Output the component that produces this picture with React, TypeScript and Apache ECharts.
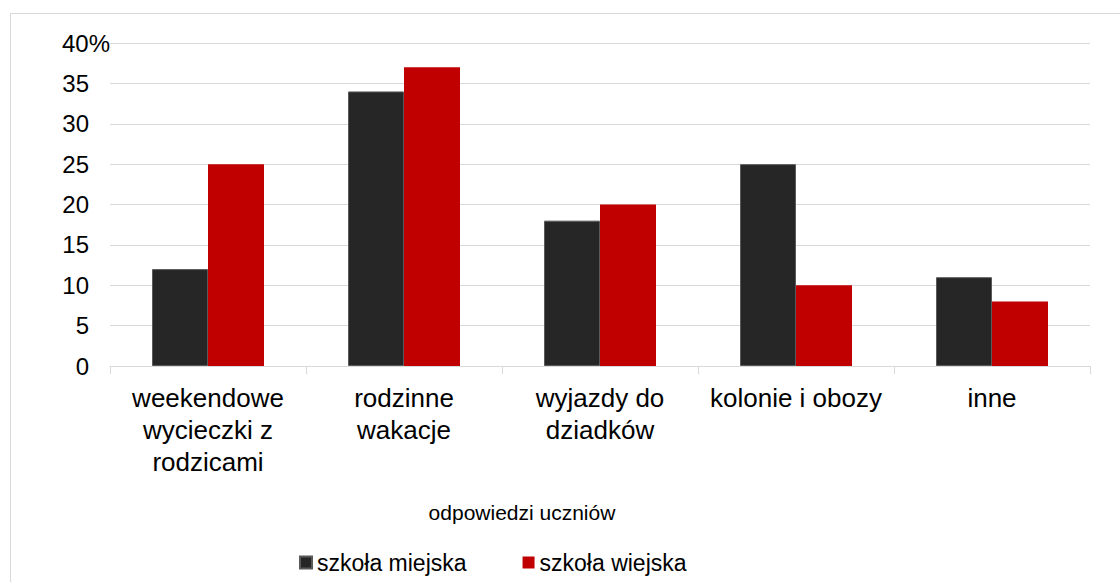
import React, { useEffect, useRef } from "react";
import * as echarts from "echarts";

const categories = [
  "weekendowe wycieczki z rodzicami",
  "rodzinne wakacje",
  "wyjazdy do dziadków",
  "kolonie i obozy",
  "inne",
];
const categoryLabels = [
  "weekendowe\nwycieczki z\nrodzicami",
  "rodzinne\nwakacje",
  "wyjazdy do\ndziadków",
  "kolonie i obozy",
  "inne",
];
const seriesNames = ["szkoła miejska", "szkoła wiejska"];
const miejska = [12, 34, 18, 25, 11];
const wiejska = [25, 37, 20, 10, 8];
const axisTitle = "odpowiedzi uczniów";
const yMax = 40;
const yStep = 5;

const FONT = "'Liberation Sans', Arial, sans-serif";

export default function App() {
  const ref = useRef<HTMLDivElement>(null);
  useEffect(() => {
    if (!ref.current) return;
    const chart = echarts.init(ref.current, undefined, { renderer: "svg" });
    chart.setOption({
      animation: false,
      backgroundColor: "#ffffff",
      textStyle: { fontFamily: FONT },
      grid: { left: 110, right: 30, top: 43, bottom: 216, containLabel: false },
      xAxis: {
        type: "category",
        data: categories,
        boundaryGap: true,
        axisLine: { show: true, lineStyle: { color: "#d9d9d9", width: 1 } },
        axisTick: { show: true, length: 8, lineStyle: { color: "#d9d9d9" } },
        axisLabel: {
          interval: 0,
          margin: 16,
          color: "#000",
          fontSize: 26,
          lineHeight: 32,
          fontFamily: FONT,
          formatter: (_v: string, i: number) => categoryLabels[i],
        },
      },
      yAxis: [
        {
          type: "value",
          min: 0,
          max: yMax,
          interval: yStep,
          axisLine: { show: false },
          axisTick: { show: false },
          splitLine: { lineStyle: { color: "#d9d9d9", width: 1 } },
          axisLabel: {
            margin: 21,
            color: "#000",
            fontSize: 24,
            fontFamily: FONT,
            formatter: (v: number) => (v === yMax ? "" : String(v)),
          },
        },
        {
          type: "value",
          position: "left",
          min: 0,
          max: yMax,
          interval: yStep,
          axisLine: { show: false },
          axisTick: { show: false },
          splitLine: { show: false },
          axisLabel: {
            margin: 48,
            align: "left",
            color: "#000",
            fontSize: 24,
            fontFamily: FONT,
            formatter: (v: number) => (v === yMax ? v + "%" : ""),
          },
        },
      ],
      legend: {
        left: 299,
        top: 551,
        itemWidth: 12,
        itemHeight: 12,
        itemGap: 56,
        icon: "rect",
        padding: 0,
        textStyle: { fontSize: 23, color: "#000", fontFamily: FONT },
        data: seriesNames,
      },
      graphic: [
        {
          type: "rect",
          shape: { x: 10.5, y: 13.5, width: 1200, height: 700 },
          style: { fill: "none", stroke: "#d9d9d9", lineWidth: 1 },
          silent: true,
          z: -10,
        },
        {
          type: "text",
          x: 522,
          y: 512,
          style: {
            text: axisTitle,
            fontSize: 21,
            fontFamily: FONT,
            fill: "#000",
            align: "center",
            verticalAlign: "middle",
          },
        },
      ],
      series: [
        {
          name: seriesNames[0],
          type: "bar",
          data: miejska,
          barWidth: 56,
          barGap: "0%",
          itemStyle: { color: "#262626", borderColor: "#595959", borderWidth: 1 },
        },
        {
          name: seriesNames[1],
          type: "bar",
          data: wiejska,
          barWidth: 56,
          barGap: "0%",
          itemStyle: { color: "#c00000" },
        },
      ],
    });
    return () => chart.dispose();
  }, []);
  return (
    <div
      ref={ref}
      style={{ position: "fixed", left: 0, top: 0, width: 1120, height: 582 }}
    />
  );
}
